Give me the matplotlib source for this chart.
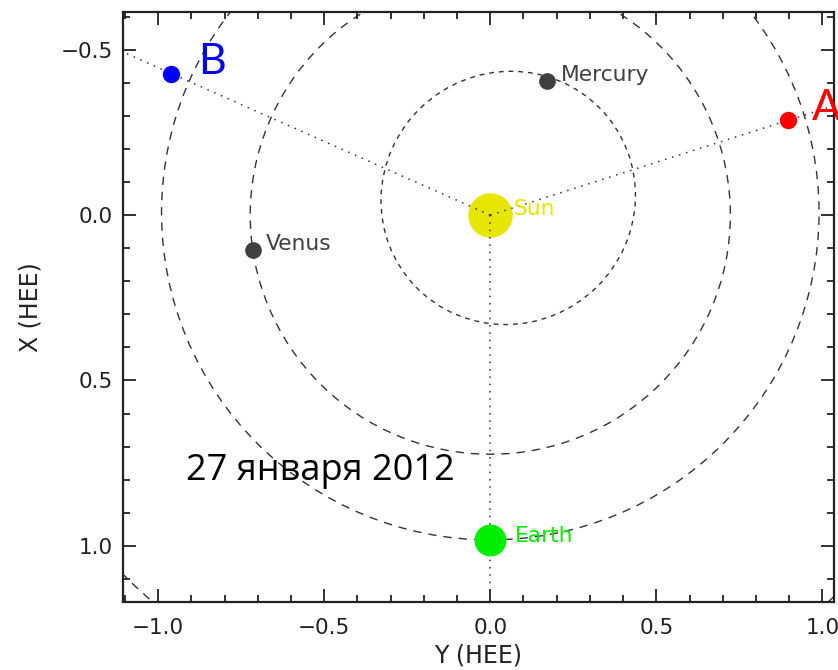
import numpy as np
import matplotlib.pyplot as plt
from matplotlib.patches import Ellipse
from matplotlib.ticker import MultipleLocator

# positions in HEE coordinates (AU): first number = Y (HEE), second = X (HEE)
sun_pos = (0.0, 0.0)
earth_pos = (0.0, 0.983)
planet_names = ['Mercury', 'Venus']
planet_y = [0.170, -0.714]
planet_x = [-0.406, 0.106]
craft_names = ['A', 'B']
craft_y = [0.898, -0.960]
craft_x = [-0.287, -0.428]
craft_colors = ['#ff0000', '#0000ff']

# orbits: centre (Y, X), full width, full height, tilt (deg)
orbit_center = [(0.054, -0.052), (0.0, 0.0), (0.0, -0.008), (0.0, 0.0)]
orbit_width = [0.774, 1.446, 1.98, 3.10]
orbit_height = [0.758, 1.446, 1.98, 3.10]
orbit_angle = [-44.0, 0.0, 0.0, 0.0]
orbit_dash = [(3.5, 3.5), (6, 5), (6, 5), (6, 5)]

date_text = '27 января 2012'

dark = '#333333'
sun_color = '#e6e600'
earth_color = '#00ee00'
planet_color = '#404040'

fig = plt.figure(figsize=(8.38, 6.7), dpi=100)
ax = fig.add_axes([0.1464, 0.1019, 0.8492, 0.8806])

# orbits
for c, w, h, a, d in zip(orbit_center, orbit_width, orbit_height, orbit_angle, orbit_dash):
    e = Ellipse(c, w, h, angle=a, fill=False, edgecolor=dark, linewidth=1.0,
                linestyle=(0, d), zorder=1)
    ax.add_patch(e)

# the Sun
ax.plot(*sun_pos, 'o', color=sun_color, markersize=31, zorder=2)

# dotted lines from the Sun through each spacecraft and the Earth
for ty, tx in [earth_pos] + list(zip(craft_y, craft_x)):
    ax.plot([0, ty * 4], [0, tx * 4], color=dark, linewidth=1.1,
            linestyle=(0, (1, 3.8)), zorder=3)

# Earth and planets
ax.plot(*earth_pos, 'o', color=earth_color, markersize=22, zorder=4)
ax.plot(planet_y, planet_x, 'o', color=planet_color, markersize=11, linestyle='none', zorder=4)
for cy, cx, cc in zip(craft_y, craft_x, craft_colors):
    ax.plot(cy, cx, 'o', color=cc, markersize=11.5, zorder=4)

# labels
lab = dict(fontsize=15.7, ha='left', va='baseline', zorder=5,
           textcoords='offset points')
ax.annotate('Sun', sun_pos, xytext=(17, 0), color=sun_color, **lab)
ax.annotate('Earth', earth_pos, xytext=(18, -1), color=earth_color, **lab)
for name, py, px, off in zip(planet_names, planet_y, planet_x, [10, 9]):
    ax.annotate(name, (py, px), xytext=(off, 0), color=planet_color, **lab)
for name, cy, cx, cc, off in zip(craft_names, craft_y, craft_x, craft_colors, [17, 19]):
    ax.annotate(name, (cy, cx), xytext=(off, 0), textcoords='offset points',
                color=cc, fontsize=31, ha='left', va='baseline', zorder=5,
                family=['Lato', 'DejaVu Sans'], fontweight='normal',
                annotation_clip=False)

ax.text(-0.915, 0.8, date_text, fontsize=26, family=['Open Sans', 'DejaVu Sans'],
        color='black', ha='left', va='baseline', zorder=6)

ax.set_xlim(-1.107, 1.036)
ax.set_ylim(1.169, -0.615)

ax.xaxis.set_major_locator(MultipleLocator(0.5))
ax.xaxis.set_minor_locator(MultipleLocator(0.1))
ax.yaxis.set_major_locator(MultipleLocator(0.5))
ax.yaxis.set_minor_locator(MultipleLocator(0.1))
ax.tick_params(which='both', direction='in', top=True, right=True,
               width=1.3, color='#222222', labelcolor='#222222', labelsize=15.5)
ax.tick_params(axis='x', which='both', pad=11.5)
ax.tick_params(axis='y', which='both', pad=7)
ax.tick_params(which='major', length=9.5)
ax.tick_params(which='minor', length=5)
for s in ax.spines.values():
    s.set_linewidth(1.6)
    s.set_color('#222222')

ax.set_xlabel('Y (HEE)', fontsize=17, color='#222222')
ax.set_ylabel('X (HEE)', fontsize=17, color='#222222')
ax.xaxis.set_label_coords(0.5, -0.07)
ax.yaxis.set_label_coords(-0.112, 0.5)

fig.savefig('out.png', dpi=100)
